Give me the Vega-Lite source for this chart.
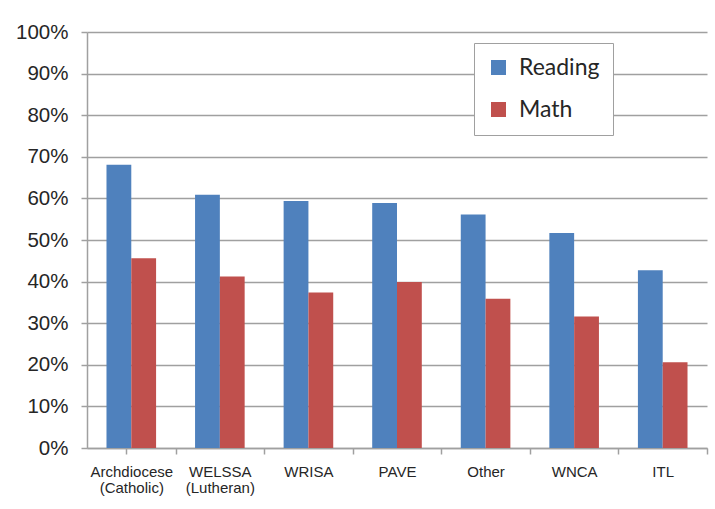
{
  "$schema": "https://vega.github.io/schema/vega-lite/v6.json",
  "width": 620,
  "height": 416,
  "autosize": {"type": "none"},
  "padding": {"left": 87, "top": 32, "right": 8, "bottom": 61},
  "background": "white",
  "config": {
    "view": {"stroke": null},
    "font": "Liberation Sans"
  },
  "data": {
    "values": [
      {"school": "Archdiocese|(Catholic)", "subject": "Reading", "value": 0.681},
      {"school": "Archdiocese|(Catholic)", "subject": "Math", "value": 0.456},
      {"school": "WELSSA|(Lutheran)", "subject": "Reading", "value": 0.609},
      {"school": "WELSSA|(Lutheran)", "subject": "Math", "value": 0.412},
      {"school": "WRISA", "subject": "Reading", "value": 0.594},
      {"school": "WRISA", "subject": "Math", "value": 0.374},
      {"school": "PAVE", "subject": "Reading", "value": 0.589},
      {"school": "PAVE", "subject": "Math", "value": 0.399},
      {"school": "Other", "subject": "Reading", "value": 0.561},
      {"school": "Other", "subject": "Math", "value": 0.359},
      {"school": "WNCA", "subject": "Reading", "value": 0.517},
      {"school": "WNCA", "subject": "Math", "value": 0.316},
      {"school": "ITL", "subject": "Reading", "value": 0.427},
      {"school": "ITL", "subject": "Math", "value": 0.206}
    ]
  },
  "mark": {"type": "bar"},
  "encoding": {
    "x": {
      "field": "school",
      "type": "nominal",
      "sort": null,
      "scale": {"paddingInner": 0.44, "paddingOuter": 0.22},
      "axis": {
        "title": null,
        "labelAngle": 0,
        "labelExpr": "split(datum.label, '|')",
        "labelFontSize": 15,
        "labelColor": "#262626",
        "labelLineHeight": 16,
        "labelPadding": 10,
        "labelOffset": -19.5,
        "ticks": true,
        "bandPosition": 1,
        "tickExtra": true,
        "tickOffset": 19.5,
        "tickSize": 6,
        "tickColor": "#a0a0a0",
        "tickWidth": 1.5,
        "domainColor": "#a0a0a0",
        "domainWidth": 1.5,
        "grid": false
      }
    },
    "xOffset": {"field": "subject", "type": "nominal", "sort": ["Reading", "Math"], "scale": {"paddingInner": 0}},
    "y": {
      "field": "value",
      "type": "quantitative",
      "scale": {"domain": [0, 1]},
      "axis": {
        "title": null,
        "format": ".0%",
        "values": [0, 0.1, 0.2, 0.3, 0.4, 0.5, 0.6, 0.7, 0.8, 0.9, 1],
        "labelFontSize": 20.5,
        "labelColor": "#262626",
        "labelPadding": 13,
        "tickSize": 6,
        "tickColor": "#a0a0a0",
        "tickWidth": 1.5,
        "domainColor": "#a0a0a0",
        "domainWidth": 1.5,
        "grid": true,
        "gridColor": "#a0a0a0",
        "gridWidth": 1.5
      }
    },
    "color": {
      "field": "subject",
      "type": "nominal",
      "scale": {"domain": ["Reading", "Math"], "range": ["#4F81BD", "#C0504D"]},
      "legend": {
        "title": null,
        "orient": "none",
        "legendX": 387,
        "legendY": 11,
        "symbolType": "square",
        "symbolSize": 225,
        "symbolStrokeWidth": 0,
        "labelFont": "Lato",
        "labelFontSize": 23,
        "labelColor": "#262626",
        "labelOffset": 9,
        "rowPadding": 18,
        "padding": 13,
        "strokeColor": "#a0a0a0",
        "fillColor": "white"
      }
    }
  }
}
